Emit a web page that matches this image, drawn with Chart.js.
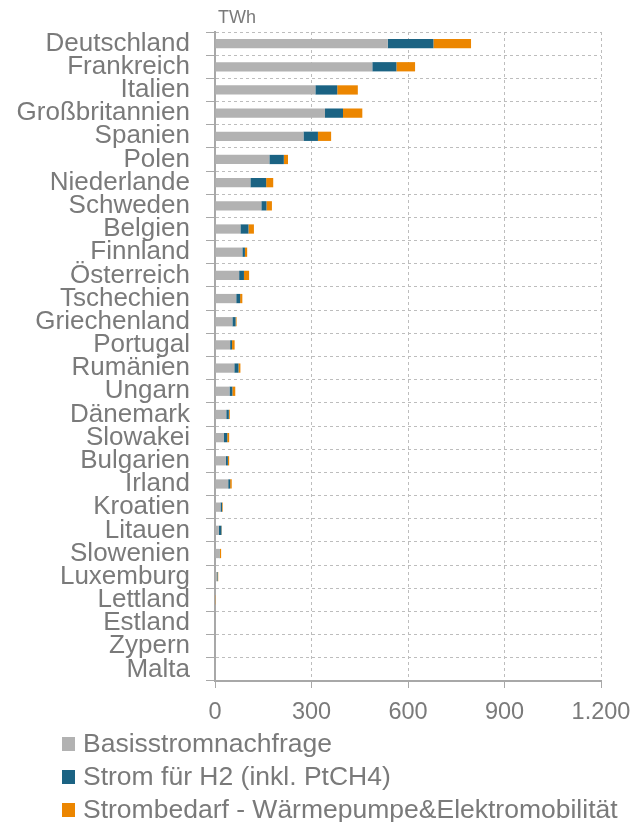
<!DOCTYPE html>
<html>
<head>
<meta charset="utf-8">
<script src="https://cdn.jsdelivr.net/npm/chart.js@4/dist/chart.umd.min.js"></script>
<style>
  html, body { margin: 0; padding: 0; background: #fff; }
  #wrap { width: 634px; height: 822px; }
</style>
</head>
<body>
<div id="wrap"><canvas id="myChart" width="634" height="822"></canvas></div>
<script>
// countries, top to bottom
var countries = ['Deutschland', 'Frankreich', 'Italien', 'Großbritannien', 'Spanien', 'Polen',
  'Niederlande', 'Schweden', 'Belgien', 'Finnland', 'Österreich', 'Tschechien', 'Griechenland',
  'Portugal', 'Rumänien', 'Ungarn', 'Dänemark', 'Slowakei', 'Bulgarien', 'Irland', 'Kroatien',
  'Litauen', 'Slowenien', 'Luxemburg', 'Lettland', 'Estland', 'Zypern', 'Malta'];

// TWh
var basisStrom = [537, 489, 312, 342, 275, 169, 110, 144, 79, 85, 75, 66, 54, 47, 60, 45, 35, 28, 34, 41, 17, 12, 14, 6, 1, 1, 1, 1];
var stromH2    = [142, 75, 68, 56, 45, 45, 49, 16, 25, 8, 15, 12, 10, 6, 13, 9, 8, 10, 6, 6, 5, 8, 1, 2, 0, 0, 0, 0];
var waermeMob  = [117, 58, 64, 60, 41, 13, 22, 17, 17, 7, 16, 7, 3, 8, 6, 9, 3, 6, 4, 5, 2, 1, 4, 2, 1, 0, 0, 0];

var seriesNames = ['Basisstromnachfrage', 'Strom für H2 (inkl. PtCH4)', 'Strombedarf - Wärmepumpe&Elektromobilität'];
var seriesColors = ['#b2b2b2', '#1b6383', '#ec8600'];

var xTicks = [0, 300, 600, 900, 1200];
var xTickLabels = ['0', '300', '600', '900', '1.200'];
var unitLabel = 'TWh';

var textColor = '#7a7a7a';
var fontFam = "'Liberation Sans', Arial, sans-serif";

// little plugin: unit label on top + legend one item per line
var extras = {
  id: 'extras',
  afterDraw: function(chart) {
    var c = chart.ctx;
    var area = chart.chartArea;
    c.save();
    c.fillStyle = textColor;
    c.font = '18px ' + fontFam;
    c.textBaseline = 'alphabetic';
    c.textAlign = 'left';
    c.fillText(unitLabel, area.left + 3, area.top - 9);

    c.font = '26.5px ' + fontFam;
    c.textBaseline = 'middle';
    chart.data.datasets.forEach(function(ds, i) {
      var y = area.bottom + 63 + i * 33;
      c.fillStyle = ds.backgroundColor;
      c.fillRect(62, y - 7, 13, 14);
      c.fillStyle = textColor;
      c.fillText(ds.label, 83, y + 1);
    });
    c.restore();
  }
};

var ctx = document.getElementById('myChart');

var chart = new Chart(ctx, {
  type: 'bar',
  data: {
    labels: countries,
    datasets: [
      { label: seriesNames[0], data: basisStrom, backgroundColor: seriesColors[0] },
      { label: seriesNames[1], data: stromH2, backgroundColor: seriesColors[1] },
      { label: seriesNames[2], data: waermeMob, backgroundColor: seriesColors[2] }
    ]
  },
  options: {
    indexAxis: 'y',
    responsive: false,
    animation: false,
    layout: { padding: { top: 32, right: 0, left: 0, bottom: 0 } },
    datasets: { bar: { categoryPercentage: 1, barPercentage: 0.4 } },
    plugins: {
      legend: { display: false },
      tooltip: { enabled: false }
    },
    scales: {
      x: {
        stacked: true,
        min: 0,
        max: 1200,
        afterBuildTicks: function(scale) {
          scale.ticks = xTicks.map(function(v) { return { value: v }; });
        },
        afterFit: function(scale) {
          scale.height = 141;
          scale.paddingRight = 33;
        },
        ticks: {
          color: textColor,
          font: { family: fontFam, size: 23.5 },
          padding: 10,
          maxRotation: 0,
          callback: function(v) { return xTickLabels[xTicks.indexOf(v)]; }
        },
        grid: {
          color: '#bdbdbd',
          tickColor: '#a8a8a8',
          tickLength: 7,
          tickBorderDash: [],
          lineWidth: 1
        },
        border: { color: '#a8a8a8', width: 2, dash: [3, 3] }
      },
      y: {
        stacked: true,
        afterFit: function(scale) { scale.width = 215; },
        ticks: {
          color: textColor,
          font: { family: fontFam, size: 26 },
          padding: 16,
          autoSkip: false
        },
        grid: {
          color: '#bdbdbd',
          tickColor: '#a8a8a8',
          tickLength: 9,
          tickBorderDash: [],
          lineWidth: 1
        },
        border: { color: '#a8a8a8', width: 2, dash: [3, 3] }
      }
    }
  },
  plugins: [extras]
});
</script>
</body>
</html>
